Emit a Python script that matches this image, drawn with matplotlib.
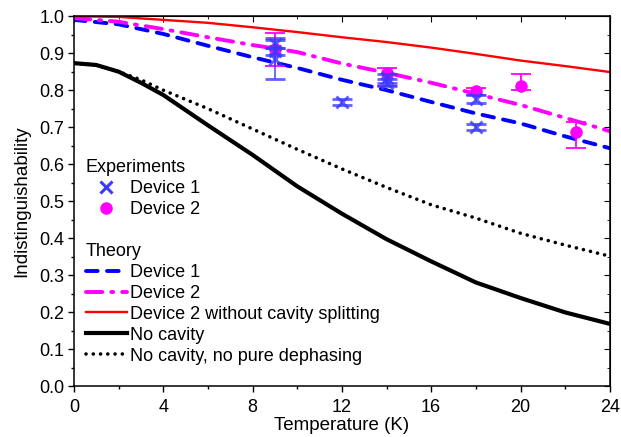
import matplotlib
matplotlib.use("Agg")
import matplotlib.pyplot as plt
from matplotlib.ticker import MultipleLocator
from matplotlib.lines import Line2D

plt.rcParams['font.family'] = ['Liberation Sans', 'DejaVu Sans']
plt.rcParams['font.size'] = 12.5

# theory curves
temp = [0, 2, 4, 6, 8, 10, 12, 14, 16, 18, 20, 22, 24]
dev1_theory = [0.99, 0.978, 0.952, 0.92, 0.889, 0.86, 0.828, 0.80, 0.768, 0.737, 0.71, 0.675, 0.643]
dev2_theory = [0.995, 0.985, 0.965, 0.943, 0.922, 0.903, 0.872, 0.847, 0.82, 0.79, 0.76, 0.725, 0.689]
dev2_nosplit = [1.0, 0.998, 0.99, 0.982, 0.97, 0.957, 0.943, 0.93, 0.915, 0.898, 0.88, 0.865, 0.849]

temp_nc = [0, 1, 2, 3, 4, 6, 8, 10, 12, 14, 16, 18, 20, 22, 24]
no_cavity = [0.873, 0.868, 0.85, 0.82, 0.787, 0.705, 0.625, 0.54, 0.466, 0.397, 0.337, 0.28, 0.238, 0.199, 0.168]
no_cavity_nodeph = [0.873, 0.868, 0.85, 0.828, 0.80, 0.75, 0.695, 0.64, 0.587, 0.537, 0.49, 0.454, 0.413, 0.381, 0.351]

# experiments
d1_T = [9, 9, 9, 12, 14, 14, 18, 18]
d1_I = [0.925, 0.905, 0.885, 0.768, 0.832, 0.82, 0.776, 0.70]
d1_err = [0.01, 0.01, 0.055, 0.008, 0.012, 0.01, 0.012, 0.008]

d2_T = [9, 14, 18, 20, 22.5]
d2_I = [0.91, 0.845, 0.797, 0.81, 0.686]
d2_err_lo = [0.045, 0.035, 0.01, 0.01, 0.043]
d2_err_hi = [0.045, 0.015, 0.01, 0.033, 0.027]

fig = plt.figure(figsize=(6.21, 4.37), dpi=100)
ax = fig.add_axes([0.119, 0.1167, 0.863, 0.8463])

blue = '#0000ff'
mag = '#ff00ff'
dot_style = dict(color='black', lw=2.6, dashes=(0.01, 2.0), dash_capstyle='round')

ax.plot(temp, dev1_theory, color=blue, lw=2.8, dashes=(3.0, 2.4), dash_capstyle='round')
ax.plot(temp, dev2_theory, color=mag, lw=2.8, dashes=(4.2, 2.3, 0.5, 2.3), dash_capstyle='round')
ax.plot(temp, dev2_nosplit, color='#ff0000', lw=1.7)
ax.plot(temp_nc, no_cavity, color='black', lw=3.0)
ax.plot(temp_nc, no_cavity_nodeph, **dot_style)

ax.errorbar(d2_T, d2_I, yerr=[d2_err_lo, d2_err_hi], fmt='o', color=mag, ms=8,
            capsize=7, elinewidth=1.3, capthick=1.3, zorder=3)
ax.errorbar(d1_T, d1_I, yerr=d1_err, fmt='x', color='#3a3aff', ms=8, mew=2,
            capsize=7, elinewidth=1.3, capthick=1.3, alpha=0.8, zorder=4)

ax.set_xlim(0, 24)
ax.set_ylim(0, 1.0)
ax.xaxis.set_major_locator(MultipleLocator(4))
ax.xaxis.set_minor_locator(MultipleLocator(2))
ax.yaxis.set_major_locator(MultipleLocator(0.1))
ax.yaxis.set_minor_locator(MultipleLocator(0.05))
ax.yaxis.set_major_formatter(plt.FormatStrFormatter('%.1f'))
ax.tick_params(which='major', direction='out', length=4, width=1, labelsize=13)
ax.tick_params(which='minor', direction='out', length=2.5, width=1)
ax.tick_params(axis='x', pad=5)
ax.tick_params(axis='y', pad=3)
for s in ax.spines.values():
    s.set_linewidth(1.1)

top = ax.secondary_xaxis('top')
top.xaxis.set_major_locator(MultipleLocator(4))
top.xaxis.set_minor_locator(MultipleLocator(2))
top.tick_params(which='both', direction='in', labeltop=False)
top.tick_params(which='major', length=4)
top.tick_params(which='minor', length=2.5)
right = ax.secondary_yaxis('right')
right.yaxis.set_major_locator(MultipleLocator(0.1))
right.yaxis.set_minor_locator(MultipleLocator(0.05))
right.tick_params(which='both', direction='in', labelright=False)
right.tick_params(which='major', length=4)
right.tick_params(which='minor', length=2.5)

ax.set_xlabel('Temperature (K)', fontsize=13.5, labelpad=1)
ax.set_ylabel('Indistinguishability', fontsize=13.5, labelpad=6)

# legends
exp_handles = [
    Line2D([], [], ls='none', marker='x', color='#3a3aff', ms=8, mew=2.2),
    Line2D([], [], ls='none', marker='o', color=mag, ms=8),
]
leg1 = ax.legend(exp_handles, ['Device 1', 'Device 2'], title='Experiments',
                 loc='upper left', bbox_to_anchor=(0.022, 0.613), frameon=False,
                 alignment='left', handlelength=2.3, handletextpad=0.15,
                 labelspacing=0.22, borderpad=0, borderaxespad=0, fontsize=13,
                 title_fontsize=13)
ax.add_artist(leg1)

th_handles = [
    Line2D([], [], color=blue, lw=2.8, dashes=(3.0, 2.4), dash_capstyle='round'),
    Line2D([], [], color=mag, lw=2.8, dashes=(4.2, 2.3, 0.5, 2.3), dash_capstyle='round'),
    Line2D([], [], color='#ff0000', lw=1.7),
    Line2D([], [], color='black', lw=3.0),
    Line2D([], [], **dot_style),
]
th_labels = ['Device 1', 'Device 2', 'Device 2 without cavity splitting',
             'No cavity', 'No cavity, no pure dephasing']
ax.legend(th_handles, th_labels, title='Theory', loc='upper left',
          bbox_to_anchor=(0.022, 0.387), frameon=False, alignment='left',
          handlelength=2.3, handletextpad=0.15, labelspacing=0.22, borderpad=0,
          borderaxespad=0, fontsize=13, title_fontsize=13)

fig.savefig('out.png', dpi=100)
